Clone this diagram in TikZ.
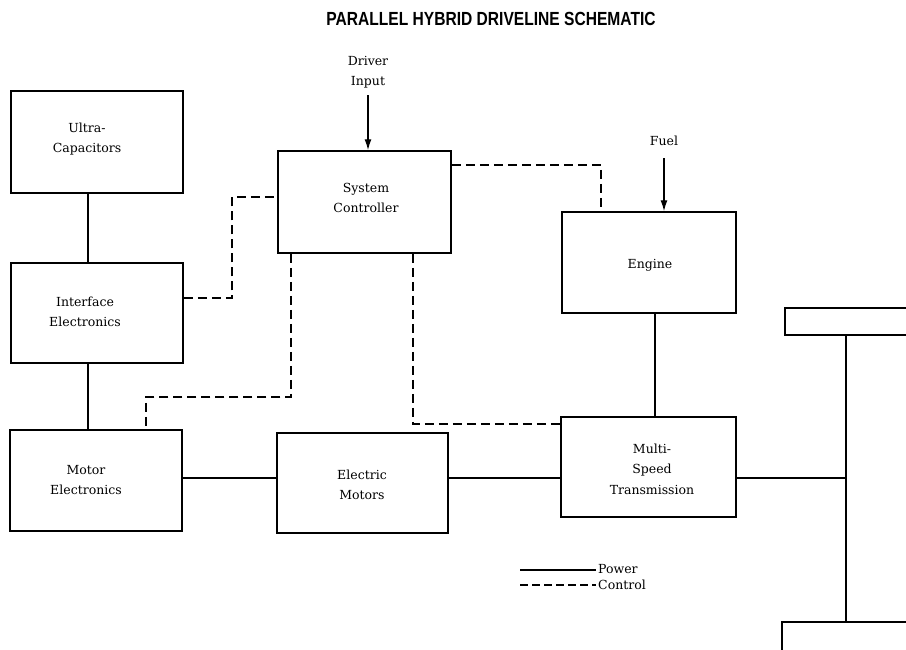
\documentclass[tikz,border=0pt]{standalone}
\usepackage{fontspec}
\usepackage{graphicx}
\setmainfont{DejaVu Serif}
\newfontfamily\titlefont{Liberation Sans}
\usetikzlibrary{arrows.meta,calc}
\tikzset{
  blk/.style={draw, line width=1.5pt, inner sep=0pt},
  lbl/.style={align=center, inner sep=0pt, font=\fontsize{12.5}{20.5}\selectfont},
  pw/.style={line width=1.4pt},
  ctl/.style={line width=1.5pt, dash pattern=on 9pt off 5pt},
  inarrow/.style={line width=1.4pt, -{Latex[length=11pt,width=7pt]}},
}
\begin{document}
\begin{tikzpicture}[x=1pt,y=-1pt]
\useasboundingbox (0,0) rectangle (906,649);
% title
\node[font=\titlefont\bfseries\fontsize{19}{21}\selectfont] (title) at (491,19) {\scalebox{0.82}[1]{PARALLEL HYBRID DRIVELINE SCHEMATIC}};
% boxes
\node[blk, minimum width=172pt, minimum height=102pt] (uc) at (97,142) {};
\node[blk, minimum width=172pt, minimum height=100pt] (ie) at (97,313) {};
\node[blk, minimum width=172pt, minimum height=101pt] (me) at (96,480.5) {};
\node[blk, minimum width=171pt, minimum height=100pt] (em) at (362.5,483) {};
\node[blk, minimum width=173pt, minimum height=102pt] (sc) at (364.5,202) {};
\node[blk, minimum width=174pt, minimum height=101pt] (eng) at (649,262.5) {};
\node[blk, minimum width=175pt, minimum height=100pt] (mst) at (648.5,467) {};
\node[blk, minimum width=140pt, minimum height=27pt] (axt) at (855,321.5) {};
\node[blk, minimum width=140pt, minimum height=60pt] (axb) at (852,652) {};
% labels
\node[lbl] (ucl) at (87,139) {Ultra-\\Capacitors};
\node[lbl] (iel) at (85,312) {Interface\\Electronics};
\node[lbl] (mel) at (86,480) {Motor\\Electronics};
\node[lbl] (eml) at (362,485) {Electric\\Motors};
\node[lbl] (scl) at (366,198) {System\\Controller};
\node[lbl] (engl) at (650,265) {Engine};
\node[lbl] (mstl) at (652,469) {Multi-\\Speed\\Transmission};
\node[lbl] (drv) at (368,72) {Driver\\Input};
\node[lbl] (fuel) at (664,141) {Fuel};
% helper coordinates
\coordinate (ax) at (88,0);
\coordinate (pl) at (0,478);
\coordinate (ex) at (655,0);
\coordinate (axl) at (846,0);
% power connections
\draw[pw] (uc.south -| ax) -- (ie.north -| ax);
\draw[pw] (ie.south -| ax) -- (me.north -| ax);
\draw[pw] (me.east |- pl) -- (em.west |- pl);
\draw[pw] (em.east |- pl) -- (mst.west |- pl);
\draw[pw] (mst.east |- pl) -- (pl -| axl);
\draw[pw] (eng.south -| ex) -- (mst.north -| ex);
\draw[pw] (axt.south -| axl) -- (axb.north -| axl);
% inputs
\coordinate (drvtop) at (368,95);
\coordinate (fueltop) at (664,158);
\draw[inarrow] (drvtop) -- (sc.north -| drvtop);
\draw[inarrow] (fueltop) -- (eng.north -| fueltop);
% control connections
\coordinate (c1) at (232,298);
\coordinate (c1b) at (232,197);
\draw[ctl] (ie.east |- c1) -- (c1) -- (c1b) -- (sc.west |- c1b);
\coordinate (c2) at (601,165);
\draw[ctl] (sc.east |- c2) -- (c2) -- (eng.north -| c2);
\coordinate (c3) at (291,397);
\coordinate (c3b) at (146,397);
\draw[ctl] (sc.south -| c3) -- (c3) -- (c3b) -- (me.north -| c3b);
\coordinate (c4) at (413,424);
\draw[ctl] (sc.south -| c4) -- (c4) -- (mst.west |- c4);
% legend
\coordinate (lp1) at (520,570);
\coordinate (lp2) at (596,570);
\coordinate (lc1) at (520,585);
\coordinate (lc2) at (596,585);
\draw[pw] (lp1) -- (lp2);
\draw[ctl, dash pattern=on 8pt off 4pt] (lc1) -- (lc2);
\node[lbl, anchor=west] (lpow) at (598,569) {Power};
\node[lbl, anchor=west] (lctl) at (598,585) {Control};
\end{tikzpicture}
\end{document}
